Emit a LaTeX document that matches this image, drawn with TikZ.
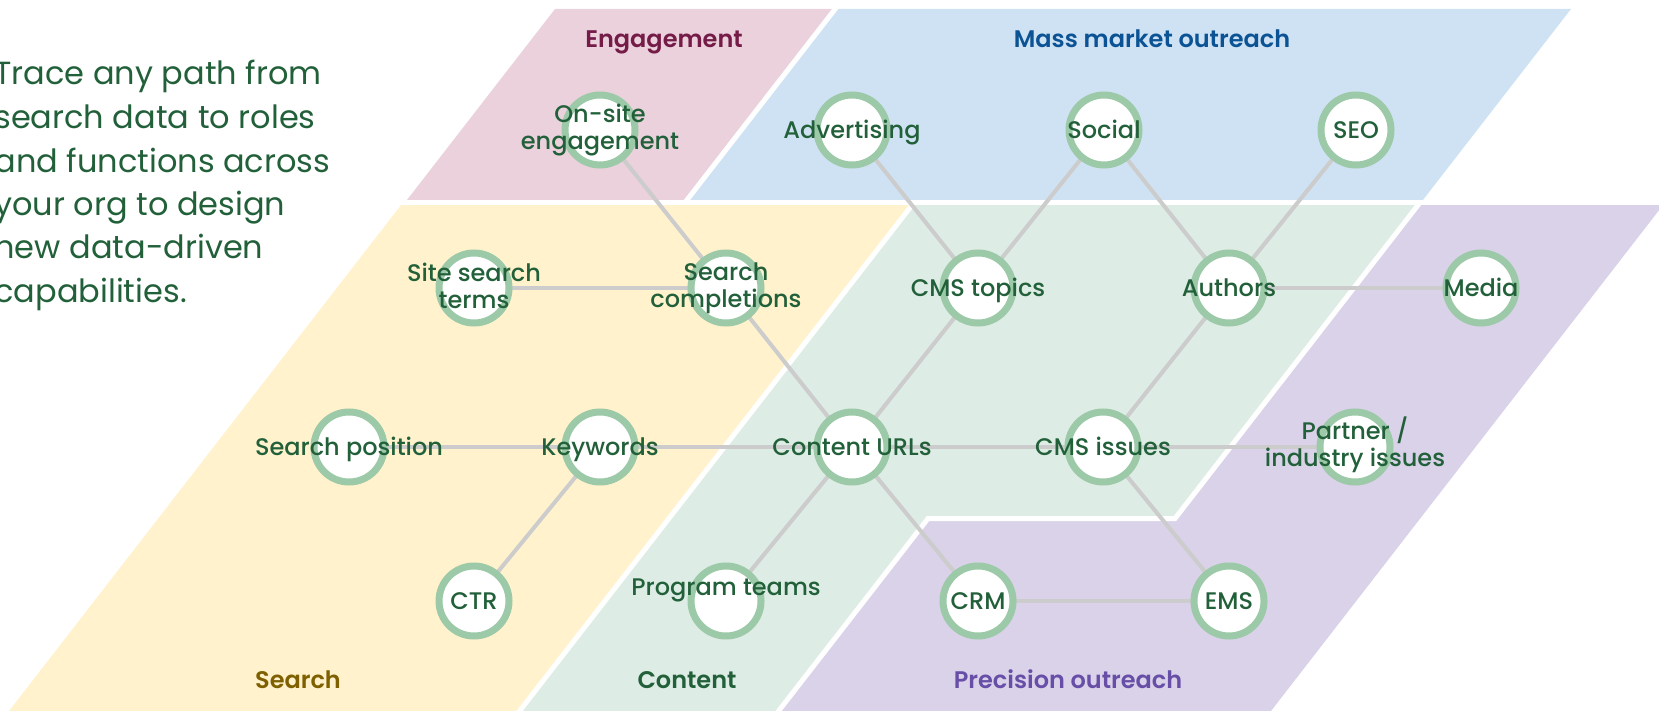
\documentclass[tikz,border=0pt]{standalone}
\usepackage{fontspec}
\setmainfont{Poppins}
\newfontfamily\pmed{Poppins Medium}
\newfontfamily\psemi{Poppins SemiBold}
\definecolor{pinkbg}{HTML}{EAD1DC}
\definecolor{bluebg}{HTML}{CFE2F3}
\definecolor{yellowbg}{HTML}{FFF2CC}
\definecolor{greenbg}{HTML}{DDECE4}
\definecolor{purplebg}{HTML}{D9D2E9}
\definecolor{txtgreen}{HTML}{22603A}
\definecolor{ringc}{HTML}{9CC9A7}
\definecolor{linec}{HTML}{CCCCCC}
\definecolor{hdmag}{HTML}{741B47}
\definecolor{hdblue}{HTML}{0B5394}
\definecolor{hdyel}{HTML}{7F6000}
\definecolor{hdpur}{HTML}{674EA7}
\tikzset{
  ring/.style={circle, draw=ringc, line width=3.5pt, fill=white, minimum size=35pt, inner sep=0pt},
  lbl/.style={text=txtgreen, font=\pmed\fontsize{12}{13.5}\selectfont, align=center, inner sep=0pt},
  lblone/.style={lbl, text height=8.6pt, text depth=0pt},
  hdr/.style={font=\psemi\fontsize{12}{14}\selectfont, inner sep=0pt, text height=8.6pt, text depth=0pt},
  conn/.style={draw=linec, line width=2pt},
  sepline/.style={draw=white, line width=2.5pt}
}
\begin{document}
\begin{tikzpicture}[x=0.5pt,y=-0.5pt]
\useasboundingbox (0,0) rectangle (1659,711);
\clip (0,0) rectangle (1659,711);
% regions
\fill[pinkbg] (555,9) -- (835,9) -- (685,202.5) -- (405,202.5) -- cycle;
\fill[bluebg] (835,9) -- (1571,9) -- (1421,202.5) -- (685,202.5) -- cycle;
\fill[yellowbg] (403,202.5) -- (914,202.5) -- (520,711) -- (9,711) -- cycle;
\fill[greenbg] (914,202.5) -- (1420,202.5) -- (1175,518.5) -- (928,518.5) -- (779,711) -- (520,711) -- cycle;
\fill[purplebg] (1420,202.5) -- (1665,202.5) -- (1271,711) -- (779,711) -- (928,518.5) -- (1175,518.5) -- cycle;
% white separators
\draw[sepline] (395,202.5) -- (1659,202.5);
\draw[sepline] (839,4) -- (685,202.5);
\draw[sepline] (914,202.5) -- (518,713);
\draw[sepline] (1420,202.5) -- (1175,518.5) -- (928,518.5) -- (777,713);
% headers
\node[hdr, text=hdmag] (hEng) at (664,39) {Engagement};
\node[hdr, text=hdblue] (hMass) at (1152,39) {Mass market outreach};
\node[hdr, text=hdyel] (hSearch) at (298,680) {Search};
\node[hdr, text=txtgreen] (hContent) at (687,680) {Content};
\node[hdr, text=hdpur] (hPrec) at (1068,680) {Precision outreach};
% intro text
\node[anchor=base west, align=left, inner sep=0pt, text=txtgreen, font=\fontsize{16}{21.75}\selectfont] (intro) at (-6,302.5)
  {Trace any path from\\search data to roles\\and functions across\\your org to design\\new data-driven\\capabilities.};
% node positions
\coordinate (ose) at (600,130);
\coordinate (adv) at (852,130);
\coordinate (soc) at (1104,130);
\coordinate (seo) at (1356,130);
\coordinate (sst) at (474,288);
\coordinate (sc) at (726,288);
\coordinate (cmt) at (978,288);
\coordinate (aut) at (1229,288);
\coordinate (med) at (1481,288);
\coordinate (sp) at (349,447);
\coordinate (kw) at (600,447);
\coordinate (cu) at (852,447);
\coordinate (cmi) at (1103,447);
\coordinate (pii) at (1355,447);
\coordinate (ctr) at (474,601);
\coordinate (pt) at (726,601);
\coordinate (crm) at (978,601);
\coordinate (ems) at (1229,601);
% connectors
\draw[conn] (ose) -- (sc);
\draw[conn] (sst) -- (sc);
\draw[conn] (sc) -- (cu);
\draw[conn] (adv) -- (cmt);
\draw[conn] (soc) -- (cmt);
\draw[conn] (soc) -- (aut);
\draw[conn] (seo) -- (aut);
\draw[conn] (cmt) -- (cu);
\draw[conn] (aut) -- (med);
\draw[conn] (aut) -- (cmi);
\draw[conn] (sp) -- (kw);
\draw[conn] (kw) -- (cu);
\draw[conn] (cu) -- (cmi);
\draw[conn] (cmi) -- (pii);
\draw[conn] (kw) -- (ctr);
\draw[conn] (cu) -- (pt);
\draw[conn] (cu) -- (crm);
\draw[conn] (cmi) -- (ems);
\draw[conn] (crm) -- (ems);
% rings
\foreach \p in {ose,adv,soc,seo,sst,sc,cmt,aut,med,sp,kw,cu,cmi,pii,ctr,pt,crm,ems}
  \node[ring] (r\p) at (\p) {};
% labels
\node[lbl] (lose) at (ose) {On-site\\engagement};
\node[lblone] (ladv) at (adv) {Advertising};
\node[lblone] (lsoc) at (soc) {Social};
\node[lblone] (lseo) at (seo) {SEO};
\node[lbl] (lsst) at ([yshift=1.25pt]sst) {Site search\\terms};
\node[lbl] (lsc) at ([yshift=-0.25pt]sc) {Search\\completions};
\node[lblone] (lcmt) at (cmt) {CMS topics};
\node[lblone] (laut) at (aut) {Authors};
\node[lblone] (lmed) at (med) {Media};
\node[lblone] (lsp) at (sp) {Search position};
\node[lblone] (lkw) at (kw) {Keywords};
\node[lblone] (lcu) at (cu) {Content URLs};
\node[lblone] (lcmi) at (cmi) {CMS issues};
\node[lbl] (lpii) at ([yshift=1pt]pii) {Partner /\\industry issues};
\node[lblone] (lctr) at (ctr) {CTR};
\node[lblone] (lpt) at ([yshift=7pt]pt) {Program teams};
\node[lblone] (lcrm) at (crm) {CRM};
\node[lblone] (lems) at (ems) {EMS};
\end{tikzpicture}
\end{document}
